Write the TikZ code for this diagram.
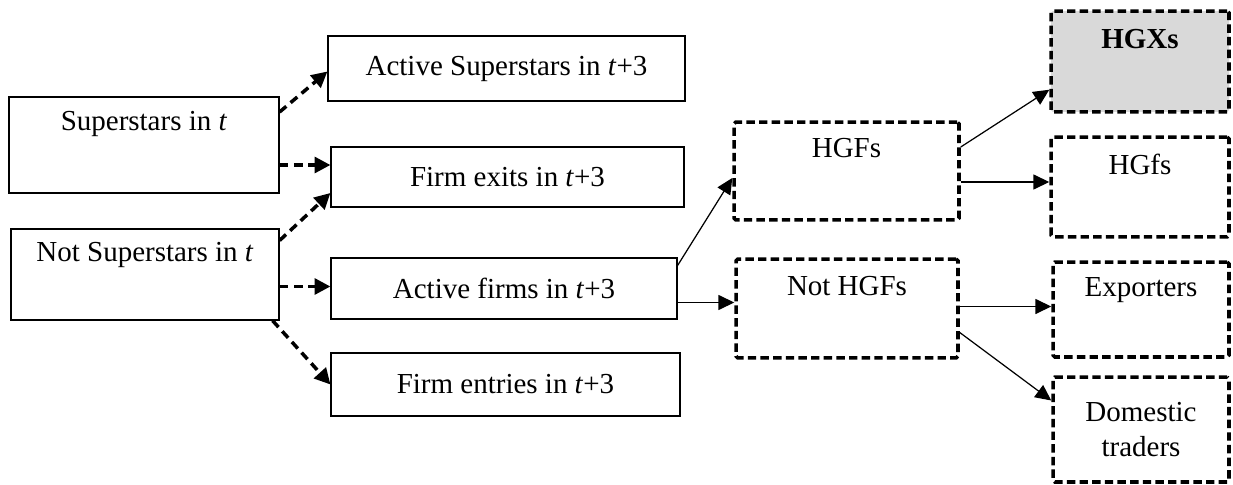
\documentclass[tikz,border=0pt]{standalone}
\usepackage{fontspec}
\setmainfont{Liberation Serif}
\usepackage{xcolor}
\usepackage{tikz}
\usetikzlibrary{arrows.meta,positioning,calc}
\definecolor{boxgray}{HTML}{D9D9D9}

\begin{document}
\begin{tikzpicture}[x=0.02cm,y=0.02cm,
    every node/.style={font=\fontsize{16.5}{20}\selectfont,align=center,inner sep=0pt},
    solidbox/.style={draw,line width=0.7pt},
    dashbox/.style={draw,line width=2pt,dash pattern=on 4.8pt off 2.4pt,rounded corners=1pt},
    dasharrow/.style={line width=2pt,dash pattern=on 5pt off 3.2pt,-{Triangle[length=9pt,width=9pt]}},
    solidarrow/.style={line width=0.7pt,-{Triangle[length=9pt,width=8.5pt]}}]
  \useasboundingbox (0,0) rectangle (1233,484);

  % Left column
  \node[solidbox,minimum width=5.40cm,minimum height=1.92cm] (sup) at (144,339) {Superstars in \textit{t}\\[1pt]\strut};
  \node[solidbox,minimum width=5.36cm,minimum height=1.82cm] (nsup) at (145,209.5) {Not Superstars in \textit{t}\\\strut};

  % Outcomes in t+3
  \node[solidbox,minimum width=7.14cm,minimum height=1.30cm] (actsup) at (506.5,415.5) {Active Superstars in \textit{t}+3};
  \node[solidbox,minimum width=7.06cm,minimum height=1.20cm] (exits) at (507.5,307) {Firm exits in \textit{t}+3};
  \node[solidbox,minimum width=6.92cm,minimum height=1.22cm] (active) at (504,195.5) {Active firms in \textit{t}+3};
  \node[solidbox,minimum width=6.98cm,minimum height=1.26cm] (entries) at (505.5,99.5) {Firm entries in \textit{t}+3};

  % Growth split
  \node[dashbox,minimum width=4.50cm,minimum height=1.96cm] (hgf) at (846.5,313) {HGFs\\\strut};
  \node[dashbox,minimum width=4.44cm,minimum height=1.98cm] (nhgf) at (847,175.5) {Not HGFs\\\strut};

  % Right column
  \node[dashbox,fill=boxgray,minimum width=3.56cm,minimum height=2.02cm] (hgx) at (1140,422.5) {\textbf{HGXs}\\\strut};
  \node[dashbox,minimum width=3.56cm,minimum height=2.00cm] (hgfs) at (1140,297) {HGfs\\\strut};
  \node[dashbox,minimum width=3.52cm,minimum height=1.90cm] (exp) at (1141,174.5) {Exporters\\\strut};
  \node[dashbox,minimum width=3.52cm,minimum height=2.10cm] (dom) at (1141,54.5) {Domestic\\traders};

  % Dashed transitions
  \draw[dasharrow] ($(sup.east)+(0,33)$) -- ($(actsup.west)+(0,-3)$);
  \draw[dasharrow] ($(sup.east)+(0,-20)$) coordinate (s1) -- (s1 -| exits.west);
  \draw[dasharrow] ($(nsup.east)+(0,34)$) -- ($(exits.west)+(0,-16)$);
  \draw[dasharrow] ($(nsup.east)+(0,-12)$) coordinate (s2) -- (s2 -| active.west);
  \draw[dasharrow] ($(nsup.south east)+(-7,0)$) -- (entries.west);

  % Solid transitions
  \draw[solidarrow] ($(active.east)+(0,23)$) -- ($(hgf.west)+(0,-7)$);
  \draw[solidarrow] ($(active.east)+(0,-14)$) coordinate (s3) -- (s3 -| nhgf.west);
  \draw[solidarrow] ($(hgf.east)+(0,24)$) -- ($(hgx.south west)+(0,24)$);
  \draw[solidarrow] ($(hgf.east)+(0,-11)$) coordinate (s4) -- (s4 -| hgfs.west);
  \draw[solidarrow] ($(nhgf.east)+(0,2)$) coordinate (s5) -- (s5 -| exp.west);
  \draw[solidarrow] ($(nhgf.east)+(0,-24)$) -- ($(dom.west)+(0,29)$);
\end{tikzpicture}
\end{document}
